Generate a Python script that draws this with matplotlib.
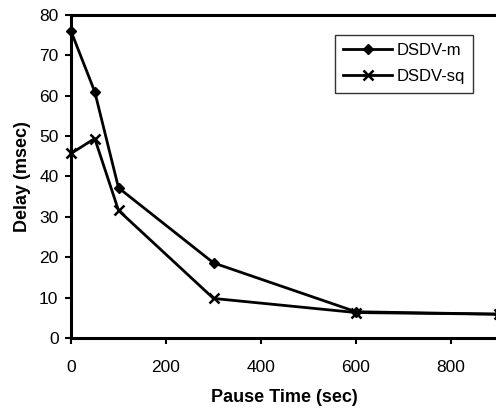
import matplotlib
matplotlib.use('Agg')
import matplotlib.pyplot as plt

plt.rcParams['font.family'] = ['Liberation Sans', 'DejaVu Sans']

pause_time = [0, 50, 100, 300, 600, 900]
dsdv_m = [76, 61, 37.2, 18.6, 6.5, 5.9]
dsdv_sq = [45.7, 49.4, 31.6, 9.8, 6.3, 5.9]

fig = plt.figure(figsize=(4.96, 4.09), dpi=100)
# x=0 at 71px, x=900 at ~498px (just past the right edge)
ax = fig.add_axes([71 / 496, (409 - 338) / 409, 427.5 / 496, 323 / 409])

ax.plot(pause_time, dsdv_m, c='black', lw=2, marker='D', ms=5.5, label='DSDV-m', clip_on=False)
ax.plot(pause_time, dsdv_sq, c='black', lw=2, marker='x', ms=7.5, mew=1.8, label='DSDV-sq', clip_on=False)

ax.set_xlim(0, 900)
ax.set_ylim(0, 80)
ax.set_xticks([0, 200, 400, 600, 800])
ax.set_yticks(range(0, 81, 10))
ax.tick_params(direction='out', length=4, width=1.5, labelsize=12.5, pad=5)
ax.tick_params(axis='x', pad=12)
for s in ax.spines.values():
    s.set_linewidth(2.2)

ax.set_xlabel('Pause Time (sec)', fontsize=13, fontweight='bold', labelpad=10)
ax.set_ylabel('Delay (msec)', fontsize=13, fontweight='bold', labelpad=6)

leg = ax.legend(loc='upper left', bbox_to_anchor=(335 / 496, 1 - 35 / 409), bbox_transform=fig.transFigure,
                fontsize=12, frameon=True, fancybox=False, edgecolor='black', handlelength=2.9,
                borderpad=0.5, labelspacing=0.65, handletextpad=0.3, borderaxespad=0)
leg.get_frame().set_linewidth(1)

plt.savefig('out.png', dpi=100)
plt.close()
